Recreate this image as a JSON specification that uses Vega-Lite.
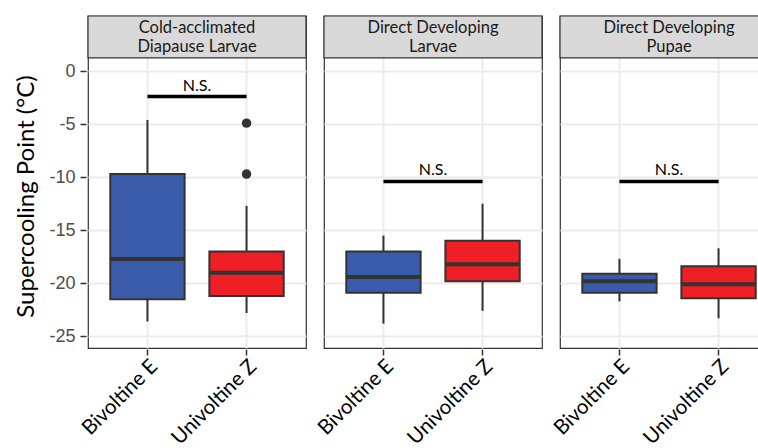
{
  "$schema": "https://vega.github.io/schema/vega-lite/v6.json",
  "padding": {"left": 14, "top": 14, "right": 0, "bottom": 0},
  "background": "white",
  "data": {"values": [
    {"kind": "strip", "panel": "P1", "label": "Cold-acclimated\nDiapause Larvae"},
    {"kind": "strip", "panel": "P2", "label": "Direct Developing\nLarvae"},
    {"kind": "strip", "panel": "P3", "label": "Direct Developing\nPupae"},
    {"kind": "box", "panel": "P1", "group": "Bivoltine E", "lo": -23.6, "q1": -21.5, "med": -17.7, "q3": -9.7, "hi": -4.6},
    {"kind": "box", "panel": "P1", "group": "Univoltine Z", "lo": -22.8, "q1": -21.2, "med": -19.0, "q3": -17.0, "hi": -12.7},
    {"kind": "box", "panel": "P2", "group": "Bivoltine E", "lo": -23.8, "q1": -20.9, "med": -19.4, "q3": -17.0, "hi": -15.5},
    {"kind": "box", "panel": "P2", "group": "Univoltine Z", "lo": -22.6, "q1": -19.8, "med": -18.2, "q3": -16.0, "hi": -12.5},
    {"kind": "box", "panel": "P3", "group": "Bivoltine E", "lo": -21.7, "q1": -20.9, "med": -19.8, "q3": -19.1, "hi": -17.7},
    {"kind": "box", "panel": "P3", "group": "Univoltine Z", "lo": -23.3, "q1": -21.4, "med": -20.1, "q3": -18.4, "hi": -16.7},
    {"kind": "out", "panel": "P1", "group": "Univoltine Z", "value": -4.9},
    {"kind": "out", "panel": "P1", "group": "Univoltine Z", "value": -9.7},
    {"kind": "ns", "panel": "P1", "from": "Bivoltine E", "to": "Univoltine Z", "level": -2.4, "text": "N.S."},
    {"kind": "ns", "panel": "P2", "from": "Bivoltine E", "to": "Univoltine Z", "level": -10.4, "text": "N.S."},
    {"kind": "ns", "panel": "P3", "from": "Bivoltine E", "to": "Univoltine Z", "level": -10.4, "text": "N.S."}
  ]},
  "facet": {"column": {"field": "panel", "type": "nominal", "sort": ["P1", "P2", "P3"], "title": null, "header": {"labels": false, "title": null, "labelPadding": 0, "titlePadding": 0}}},
  "spacing": 14,
  "spec": {
    "width": 218,
    "height": 332,
    "encoding": {
      "x": {"field": "group", "type": "nominal",
        "scale": {"domain": ["Bivoltine E", "Univoltine Z"], "paddingInner": 0.25, "paddingOuter": 0.225},
        "axis": {"title": null, "labelAngle": -45, "labelAlign": "right", "labelBaseline": "middle", "labelFont": "Lato", "labelFontSize": 20.5, "labelColor": "#000000", "labelPadding": 8, "labelOffset": 7, "tickColor": "#333333", "tickSize": 6, "tickWidth": 1.5, "domain": false, "grid": true, "bandPosition": 0.5, "gridColor": "#ebebeb", "gridWidth": 2}}
    },
    "layer": [
      {
        "transform": [{"filter": "datum.kind === 'strip'"}],
        "mark": {"type": "rect", "fill": "#d9d9d9", "stroke": "#333333", "strokeWidth": 1.2},
        "encoding": {"x": null, "y": {"datum": 1.25, "type": "quantitative"}, "y2": {"datum": 5.2}}
      },
      {
        "transform": [{"filter": "datum.kind === 'box'"}],
        "mark": {"type": "rule", "color": "#333333", "strokeWidth": 2},
        "encoding": {
          "y": {"field": "lo", "type": "quantitative",
            "scale": {"domain": [-26.1, 5.2], "nice": false, "zero": false},
            "axis": {"title": "Supercooling Point (°C)", "values": [-25, -22.5, -20, -17.5, -15, -12.5, -10, -7.5, -5, -2.5, 0],
              "labelExpr": "datum.value % 5 === 0 ? '' + datum.value : ''",
              "labelFont": "Liberation Sans", "labelFontSize": 18, "labelColor": "#4d4d4d", "labelPadding": 5,
              "tickColor": "#333333", "tickSize": 6, "tickWidth": 1.5,
              "tickOpacity": {"condition": {"test": "datum.value % 5 === 0", "value": 1}, "value": 0},
              "domain": false, "grid": true, "gridColor": "#ebebeb",
              "gridWidth": {"condition": {"test": "datum.value % 5 === 0", "value": 2}, "value": 1},
              "titleFont": "Lato", "titleFontSize": 24, "titleFontWeight": "normal", "titleColor": "#000000", "titlePadding": 10, "titleY": 180}},
          "y2": {"field": "hi"}
        }
      },
      {
        "transform": [{"filter": "datum.kind === 'box'"}],
        "mark": {"type": "bar", "stroke": "#333333", "strokeWidth": 2},
        "encoding": {
          "y": {"field": "q1", "type": "quantitative"},
          "y2": {"field": "q3"},
          "color": {"field": "group", "type": "nominal", "scale": {"domain": ["Bivoltine E", "Univoltine Z"], "range": ["#3a5baa", "#ee1f25"]}, "legend": null}
        }
      },
      {
        "transform": [{"filter": "datum.kind === 'box'"}],
        "mark": {"type": "tick", "color": "#333333", "thickness": 4, "size": 75, "opacity": 1},
        "encoding": {"y": {"field": "med", "type": "quantitative"}}
      },
      {
        "transform": [{"filter": "datum.kind === 'out'"}],
        "mark": {"type": "point", "filled": true, "color": "#333333", "size": 90, "opacity": 1},
        "encoding": {"y": {"field": "value", "type": "quantitative"}}
      },
      {
        "transform": [{"filter": "datum.kind === 'ns'"}],
        "mark": {"type": "rule", "color": "#000000", "strokeWidth": 3.5},
        "encoding": {"x": {"field": "from", "type": "nominal"}, "x2": {"field": "to"}, "y": {"field": "level", "type": "quantitative"}}
      },
      {
        "transform": [{"filter": "datum.kind === 'ns'"}],
        "mark": {"type": "text", "font": "Lato", "fontSize": 16, "color": "#000000", "baseline": "bottom", "dy": -3},
        "encoding": {"x": null, "y": {"field": "level", "type": "quantitative"}, "text": {"field": "text"}}
      },
      {
        "transform": [{"filter": "datum.kind === 'strip'"}],
        "mark": {"type": "text", "font": "Lato", "fontSize": 16.5, "color": "#1a1a1a", "baseline": "middle", "lineBreak": "\n", "lineHeight": 19},
        "encoding": {"x": null, "y": {"datum": 4.1, "type": "quantitative"}, "text": {"field": "label"}}
      }
    ]
  },
  "config": {
    "view": {"stroke": "#333333", "strokeWidth": 1.2},
    "axis": {"labelOverlap": false}
  }
}
